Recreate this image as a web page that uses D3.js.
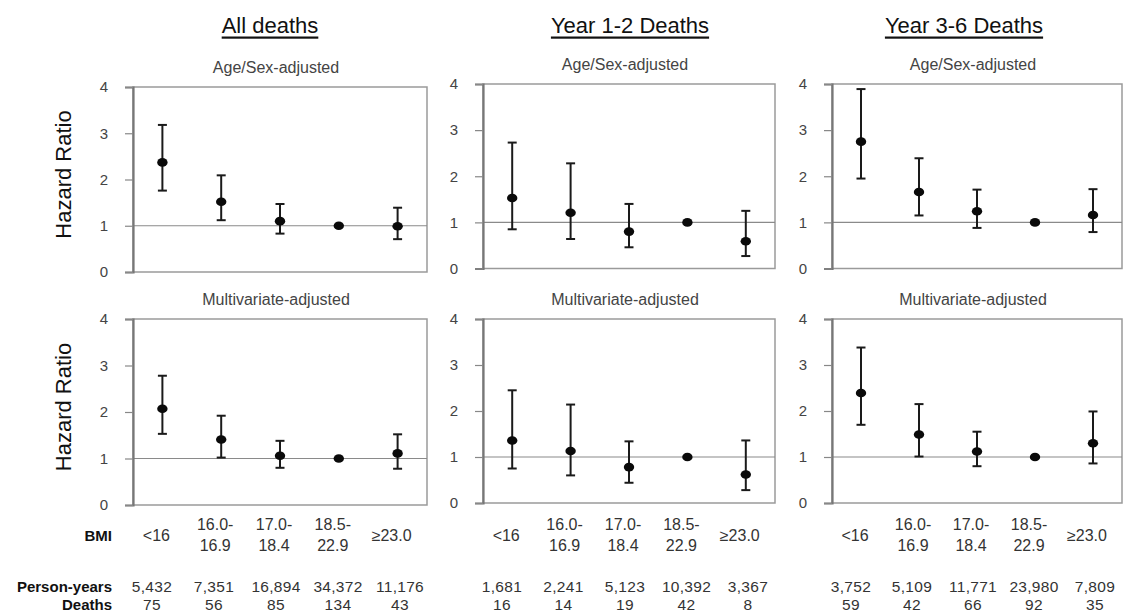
<!DOCTYPE html>
<html><head><meta charset="utf-8">
<script src="https://cdn.jsdelivr.net/npm/d3@7"></script>
<style>
body{margin:0;background:#fff;}
svg{display:block;font-family:"Liberation Sans",Arial,sans-serif;}
</style></head>
<body><svg id="c" width="1124" height="612"></svg>
<script>
// ---- data ----
const groups = ["All deaths", "Year 1-2 Deaths", "Year 3-6 Deaths"];
const adjustments = ["Age/Sex-adjusted", "Multivariate-adjusted"];
const categories = ["<16", "16.0-16.9", "17.0-18.4", "18.5-22.9", "≥23.0"];
const catLine1 = ["<16", "16.0-", "17.0-", "18.5-", "≥23.0"];
const catLine2 = ["", "16.9", "18.4", "22.9", ""];
const yTicks = [0, 1, 2, 3, 4];

const allAgeHR = [2.37, 1.52, 1.10, 1.00, 0.99];
const allAgeLo = [1.76, 1.12, 0.83, 1.00, 0.71];
const allAgeHi = [3.18, 2.09, 1.47, 1.00, 1.39];
const allMvHR  = [2.07, 1.41, 1.06, 1.00, 1.11];
const allMvLo  = [1.53, 1.02, 0.80, 1.00, 0.78];
const allMvHi  = [2.78, 1.92, 1.38, 1.00, 1.52];

const y12AgeHR = [1.53, 1.21, 0.80, 1.00, 0.59];
const y12AgeLo = [0.85, 0.64, 0.46, 1.00, 0.27];
const y12AgeHi = [2.73, 2.28, 1.40, 1.00, 1.25];
const y12MvHR  = [1.36, 1.13, 0.78, 1.00, 0.62];
const y12MvLo  = [0.75, 0.60, 0.44, 1.00, 0.28];
const y12MvHi  = [2.45, 2.14, 1.34, 1.00, 1.36];

const y36AgeHR = [2.75, 1.66, 1.24, 1.00, 1.16];
const y36AgeLo = [1.95, 1.15, 0.88, 1.00, 0.79];
const y36AgeHi = [3.89, 2.39, 1.71, 1.00, 1.72];
const y36MvHR  = [2.39, 1.49, 1.12, 1.00, 1.30];
const y36MvLo  = [1.70, 1.01, 0.80, 1.00, 0.86];
const y36MvHi  = [3.38, 2.15, 1.55, 1.00, 1.99];

const allPersonYears = [5432, 7351, 16894, 34372, 11176];
const allDeaths      = [75, 56, 85, 134, 43];
const y12PersonYears = [1681, 2241, 5123, 10392, 3367];
const y12Deaths      = [16, 14, 19, 42, 8];
const y36PersonYears = [3752, 5109, 11771, 23980, 7809];
const y36Deaths      = [59, 42, 66, 92, 35];

// ---- assemble ----
const panelData = [
  [[allAgeHR, allAgeLo, allAgeHi], [allMvHR, allMvLo, allMvHi]],
  [[y12AgeHR, y12AgeLo, y12AgeHi], [y12MvHR, y12MvLo, y12MvHi]],
  [[y36AgeHR, y36AgeLo, y36AgeHi], [y36MvHR, y36MvLo, y36MvHi]]
];
const tableData = [[allPersonYears, allDeaths], [y12PersonYears, y12Deaths], [y36PersonYears, y36Deaths]];

// ---- layout ----
const colX = [[133, 427], [483, 775], [832, 1122]];
const rowY = [[[87, 272], [319, 505]], [[84, 268.5], [319, 503]], [[84, 268.5], [319, 503]]];
const titleX = [270, 630, 964];

const svg = d3.select("#c");
const fmt = d3.format(",");

groups.forEach((g, c) => {
  const x = d3.scaleBand().domain(categories).range(colX[c]).padding(0);
  const cx = d => x(d) + x.bandwidth() / 2;
  // table columns: slightly wider spacing, shifted left
  const tx = d3.scalePoint().domain(categories).range([colX[c][0] + 19, colX[c][1] - 27]);
  // title
  svg.append("text").attr("x", titleX[c]).attr("y", 25).attr("text-anchor", "middle")
    .attr("dominant-baseline", "central").attr("font-size", 22).attr("fill", "#111")
    .attr("text-decoration", "underline").text(g);

  adjustments.forEach((adj, r) => {
    const [yTop, yBot] = rowY[c][r];
    const y = d3.scaleLinear().domain([0, 4]).range([yBot, yTop]);
    const gp = svg.append("g");
    const [x0, x1] = colX[c];
    // subtitle
    gp.append("text").attr("x", (x0 + x1) / 2 - 4).attr("y", yTop - 20).attr("text-anchor", "middle")
      .attr("dominant-baseline", "central").attr("font-size", 16).attr("fill", "#444").text(adj);
    // frame
    gp.append("rect").attr("x", x0).attr("y", yTop).attr("width", x1 - x0).attr("height", yBot - yTop)
      .attr("fill", "none").attr("stroke", "#9a9a9a").attr("stroke-width", 1.5);
    // ref line at 1
    gp.append("line").attr("x1", x0).attr("x2", x1).attr("y1", y(1)).attr("y2", y(1))
      .attr("stroke", "#8a8a8a").attr("stroke-width", 1.2);
    // axis
    const ax = gp.append("g").attr("transform", `translate(${x0},0)`)
      .call(d3.axisLeft(y).tickValues(yTicks).tickSize(8).tickPadding(17).tickFormat(d3.format("d")));
    ax.select(".domain").attr("stroke", "#777").attr("stroke-width", 2.2);
    ax.selectAll(".tick line").attr("stroke", "#888").attr("stroke-width", 1.2);
    ax.selectAll(".tick text").attr("font-size", 15).attr("fill", "#444")
      .attr("font-family", "'Liberation Sans',Arial,sans-serif");
    // y label
    if (c === 0) {
      gp.append("text").attr("transform", `translate(63,${(yTop + yBot) / 2 - 5}) rotate(-90)`)
        .attr("text-anchor", "middle").attr("dominant-baseline", "central")
        .attr("font-size", 22).attr("fill", "#111").text("Hazard Ratio");
    }
    // error bars
    const [hr, lo, hi] = panelData[c][r];
    const pts = categories.map((k, i) => ({k, hr: hr[i], lo: lo[i], hi: hi[i]}));
    const eb = gp.selectAll(".eb").data(pts.filter(d => d.hi > d.lo)).enter().append("g")
      .attr("stroke", "#1a1a1a").attr("stroke-width", 2);
    eb.append("line").attr("x1", d => cx(d.k)).attr("x2", d => cx(d.k)).attr("y1", d => y(d.lo)).attr("y2", d => y(d.hi));
    eb.append("line").attr("x1", d => cx(d.k) - 4.5).attr("x2", d => cx(d.k) + 4.5).attr("y1", d => y(d.hi)).attr("y2", d => y(d.hi));
    eb.append("line").attr("x1", d => cx(d.k) - 4.5).attr("x2", d => cx(d.k) + 4.5).attr("y1", d => y(d.lo)).attr("y2", d => y(d.lo));
    gp.selectAll(".pt").data(pts).enter().append("ellipse")
      .attr("cx", d => cx(d.k)).attr("cy", d => y(d.hr)).attr("rx", 5.2).attr("ry", 4.3).attr("fill", "#0a0a0a");
  });

  // category labels and table
  const lab = svg.append("g").attr("font-size", 16).attr("fill", "#333").attr("text-anchor", "middle");
  const tab = svg.append("g").attr("font-size", 15.5).attr("fill", "#333").attr("text-anchor", "middle")
    .attr("letter-spacing", 0.3);
  categories.forEach((k, i) => {
    const lx = cx(k) - 6;
    if (catLine2[i]) {
      lab.append("text").attr("x", lx).attr("y", 524).attr("dominant-baseline", "central").text(catLine1[i]);
      lab.append("text").attr("x", lx).attr("y", 545).attr("dominant-baseline", "central").text(catLine2[i]);
    } else {
      lab.append("text").attr("x", lx).attr("y", 535).attr("dominant-baseline", "central").text(catLine1[i]);
    }
    tab.append("text").attr("x", tx(k)).attr("y", 586).attr("dominant-baseline", "central").text(fmt(tableData[c][0][i]));
    tab.append("text").attr("x", tx(k)).attr("y", 604).attr("dominant-baseline", "central").text(fmt(tableData[c][1][i]));
  });
});

// row labels
const rl = svg.append("g").attr("font-size", 15).attr("font-weight", "bold").attr("fill", "#111")
  .attr("text-anchor", "end").attr("font-family", "'Liberation Sans',Arial,sans-serif");
rl.append("text").attr("x", 112).attr("y", 535).attr("dominant-baseline", "central").text("BMI");
rl.append("text").attr("x", 112).attr("y", 586).attr("dominant-baseline", "central").text("Person-years");
rl.append("text").attr("x", 112).attr("y", 604).attr("dominant-baseline", "central").text("Deaths");
</script></body></html>
